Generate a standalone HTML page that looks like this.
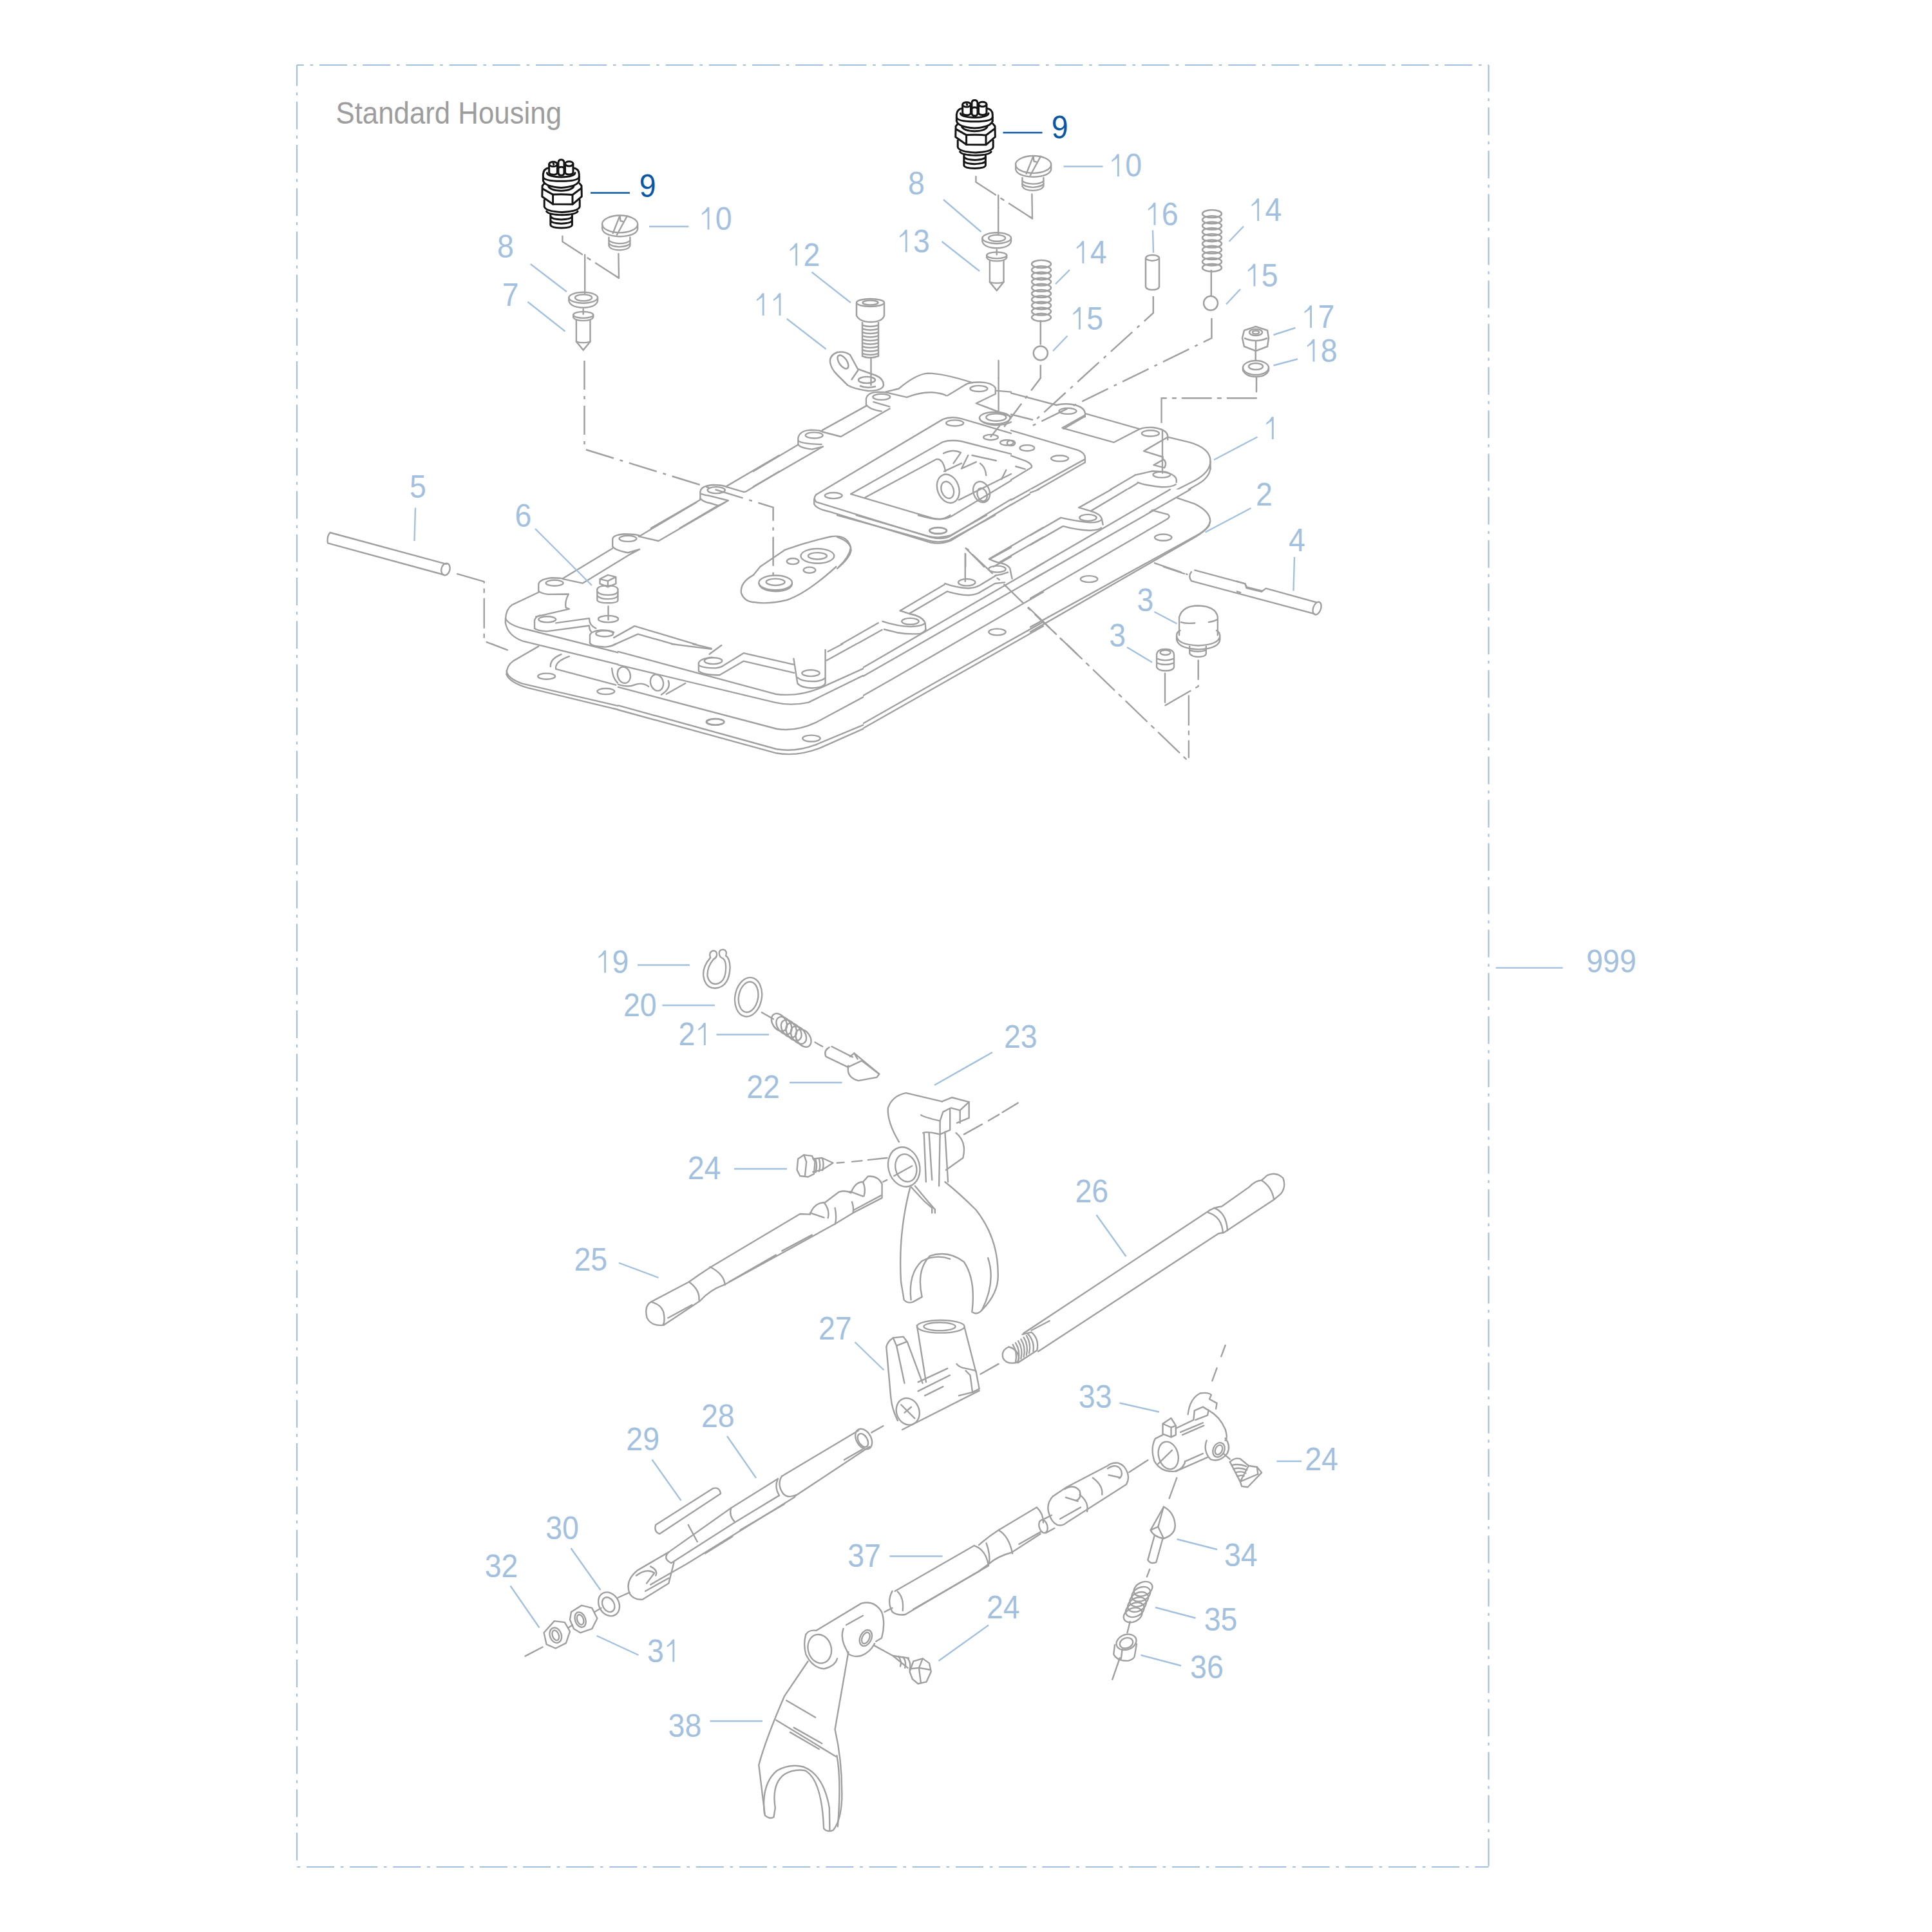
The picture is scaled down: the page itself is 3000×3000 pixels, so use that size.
<!DOCTYPE html>
<html><head><meta charset="utf-8"><style>
html,body{margin:0;padding:0;background:#fff;width:3000px;height:3000px;overflow:hidden}
svg{display:block}
text{font-family:"Liberation Sans",sans-serif}
</style></head><body>
<svg width="3000" height="3000" viewBox="0 0 3000 3000">
<rect width="3000" height="3000" fill="#fff"/>
<path d="M461 101 H2311.5" stroke="#a3c1de" stroke-width="2.2" fill="none" stroke-dasharray="43 9.8 4.6 9.8" stroke-dashoffset="32.2"/>
<path d="M2311.5 101 V2899" stroke="#a3c1de" stroke-width="2.2" fill="none" stroke-dasharray="43 9.8 4.6 9.8" stroke-dashoffset="1.4"/>
<path d="M461 2899 H2311.5" stroke="#a3c1de" stroke-width="2.2" fill="none" stroke-dasharray="43 9.8 4.6 9.8" stroke-dashoffset="52.2"/>
<path d="M461 101 V2899" stroke="#a3c1de" stroke-width="2.2" fill="none" stroke-dasharray="43 9.8 4.6 9.8" stroke-dashoffset="10.4"/>
<defs><clipPath id="cH4"><rect x="0" y="0" width="1300" height="1000"/><rect x="0" y="1200" width="1300" height="1800"/><rect x="0" y="1000" width="960" height="200"/></clipPath><clipPath id="cN8"><rect x="0" y="0" width="3000" height="1000"/><rect x="0" y="1200" width="3000" height="1800"/><rect x="0" y="1000" width="960" height="200"/><rect x="1340" y="1000" width="1660" height="200"/></clipPath><clipPath id="cH3"><rect x="1500" y="0" width="600" height="760"/><rect x="1500" y="760" width="100" height="40"/><rect x="1920" y="760" width="200" height="400"/></clipPath><clipPath id="cH5"><rect x="1620" y="0" width="1000" height="3000"/></clipPath></defs>
<g clip-path="url(#cN8)">
<g transform="translate(1300,800) scale(0.16563)" fill="none" stroke="#a0a0a0" stroke-width="14.49" stroke-linecap="round" stroke-linejoin="round" >
<path d="M0 0 L850 235 Q940 265 1050 235 L1480 0"/>
<path d="M180 0 L850 195 Q950 222 1060 190 L1400 0"/>
<path d="M760 0 Q900 40 960 38 Q1010 35 1060 0"/>
<ellipse cx="945" cy="145" rx="80" ry="30" transform="rotate(0 945 145)"/>
<path d="M0 205 Q130 250 130 330 Q120 400 0 500"/>
<path d="M1205 310 L1230 325"/>
<path d="M1200 360 V620"/>
<path d="M1270 370 L1455 545"/>
<path d="M1500 590 L1520 605"/>
<path d="M1565 650 L1745 825"/>
<path d="M1790 870 L1810 888"/>
<path d="M1855 930 L1932 1005"/>
<ellipse cx="1215" cy="630" rx="80" ry="32" transform="rotate(0 1215 630)"/>
<path d="M1010 640 Q1120 680 1230 685 Q1300 680 1340 655 L1490 565"/>
<path d="M1030 715 Q1150 750 1230 750 Q1310 745 1350 715 L1480 640 L1570 630"/>
<path d="M590 895 L1005 650"/>
<path d="M680 920 L1030 715"/>
<path d="M590 895 L680 925"/>
<ellipse cx="685" cy="995" rx="80" ry="30" transform="rotate(0 685 995)"/>
<path d="M425 995 Q560 1040 690 1045 Q800 1040 825 1010 L830 1070"/>
<path d="M440 1070 L560 1100 Q680 1120 780 1110 Q820 1095 830 1070"/>
<path d="M680 925 Q790 945 820 1000"/>
<path d="M385 1010 L0 1230"/>
<path d="M420 1075 L0 1310"/>
<ellipse cx="1500" cy="505" rx="80" ry="30" transform="rotate(0 1500 505)"/>
<path d="M1425 410 Q1480 440 1520 445 Q1600 460 1620 500 Q1625 530 1640 595"/>
<path d="M1480 565 Q1540 560 1600 535"/>
<path d="M1425 410 L1932 115"/>
<path d="M1525 440 L1932 205"/>
<path d="M40 1546 L1932 450"/>
<path d="M180 1546 L1932 545"/>
<path d="M500 1546 L1932 720"/>
<path d="M960 1546 L1932 1000"/>
<path d="M1040 1546 L1932 1040"/>
<ellipse cx="1500" cy="1095" rx="80" ry="30" transform="rotate(0 1500 1095)"/>
</g>
</g>
<path clip-path="url(#cN8)" d="M1306.6 1056 L1300 1059.7 M1329.8 1056 L1300 1072.9 M1382.8 1056 L1300 1103 M1459 1056 L1300 1146.2 M1472.3 1056 L1300 1153.7" fill="none" stroke="#a0a0a0" stroke-width="2.4"/>
<g transform="translate(1600,760) scale(0.16563)" fill="none" stroke="#a0a0a0" stroke-width="14.49" stroke-linecap="round" stroke-linejoin="round" >
<path d="M0 30 L80 0"/>
<path d="M455 170 L760 0"/>
<path d="M570 200 L905 0"/>
<path d="M455 170 L570 205"/>
<ellipse cx="540" cy="265" rx="80" ry="30" transform="rotate(0 540 265)"/>
<path d="M285 265 Q440 300 560 310 Q650 310 670 280 L680 330"/>
<path d="M310 345 Q430 380 560 385 Q640 380 665 360"/>
<path d="M570 205 Q660 230 670 280"/>
<path d="M285 265 L0 430"/>
<path d="M305 345 L0 520"/>
<path d="M0 760 L1310 0"/>
<path d="M0 855 L1500 0"/>
<path d="M1140 195 L1290 235 Q1320 260 1270 285 L0 1020"/>
<path d="M1120 212 L1160 190"/>
<path d="M1370 78 L1540 135 Q1690 210 1685 300 Q1670 370 1560 430 L0 1290"/>
<path d="M1685 300 L1675 340 Q1640 390 1540 450 L0 1335"/>
<ellipse cx="1245" cy="450" rx="80" ry="30" transform="rotate(0 1245 450)"/>
<ellipse cx="550" cy="840" rx="80" ry="30" transform="rotate(0 550 840)"/>
<path d="M1165 690 L1410 775"/>
<path d="M1462 793 L1470 797"/>
<path d="M45 1170 L230 1345"/>
<path d="M280 1395 L295 1410"/>
<path d="M340 1450 L440 1546"/>
</g>
<g transform="translate(960,1000) scale(0.19669)" fill="none" stroke="#a0a0a0" stroke-width="12.20" stroke-linecap="round" stroke-linejoin="round" >
<path d="M0 60 L1240 395 Q1420 420 1600 345 L1932 195"/>
<path d="M0 165 L1240 462 Q1360 490 1500 462 L1932 250"/>
<path d="M0 340 L1250 670 Q1400 695 1560 620 L1932 420"/>
<path d="M0 485 L1250 830 Q1400 855 1560 795 L1932 640"/>
<path d="M0 520 L1250 862 Q1420 890 1600 818 L1932 670"/>
<ellipse cx="750" cy="133" rx="70" ry="25" transform="rotate(0 750 133)"/>
<path d="M635 150 Q645 115 740 105"/>
<path d="M635 150 L635 215 Q680 248 800 245 L990 135 L1390 228"/>
<path d="M640 170 Q680 192 770 190 Q810 185 830 170 L990 72 L1385 162"/>
<path d="M720 80 L815 10"/>
<ellipse cx="1520" cy="230" rx="70" ry="25" transform="rotate(0 1520 230)"/>
<path d="M1385 115 L1415 310 Q1440 345 1530 348 Q1620 345 1635 310 L1635 45"/>
<path d="M1415 265 Q1450 295 1530 295 Q1610 295 1630 270"/>
<path d="M1655 60 L1770 0"/>
<path d="M1645 130 L1880 0"/>
<path d="M420 0 L735 40"/>
<path d="M590 0 L735 35"/>
<ellipse cx="45" cy="245" rx="50" ry="65" transform="rotate(-15 45 245)"/>
<ellipse cx="305" cy="305" rx="50" ry="65" transform="rotate(-15 305 305)"/>
<path d="M0 320 Q80 345 130 322 Q185 300 240 335"/>
<path d="M395 290 Q420 350 340 400"/>
<path d="M380 395 L530 310"/>
<ellipse cx="765" cy="615" rx="70" ry="25" transform="rotate(0 765 615)"/>
<ellipse cx="1525" cy="745" rx="70" ry="25" transform="rotate(0 1525 745)"/>
</g>
<g clip-path="url(#cN8)">
<g transform="translate(770,780) scale(0.20704)" fill="none" stroke="#a0a0a0" stroke-width="11.59" stroke-linecap="round" stroke-linejoin="round" >
<ellipse cx="990" cy="272" rx="65" ry="22" transform="rotate(0 990 272)"/>
<path d="M875 330 L875 275 Q880 245 960 238 Q1055 238 1080 252 L1505 0"/>
<path d="M1070 255 L1220 290 L1720 0"/>
<path d="M875 345 L500 572"/>
<path d="M875 330 Q890 358 990 378 L1078 352 L1010 388 L650 607 L505 575"/>
<ellipse cx="440" cy="605" rx="65" ry="22" transform="rotate(0 440 605)"/>
<path d="M320 665 L320 612 Q330 575 420 566 Q495 566 505 575"/>
<path d="M320 665 Q335 682 390 690 L545 688 Q515 745 525 790 L550 800 L300 858"/>
<path d="M320 675 L120 770 Q75 800 72 880 L72 905"/>
<ellipse cx="385" cy="878" rx="65" ry="22" transform="rotate(0 385 878)"/>
<path d="M290 945 L290 885 Q300 855 330 848"/>
<path d="M450 905 L700 870 Q700 925 750 945"/>
<path d="M290 945 Q305 962 380 968 L700 925 Q700 955 715 970"/>
<ellipse cx="815" cy="985" rx="65" ry="22" transform="rotate(0 815 985)"/>
<path d="M705 1055 L705 995 Q715 965 790 958 Q865 958 885 975"/>
<path d="M705 1055 Q720 1082 820 1085 Q870 1080 900 1062"/>
<path d="M885 1015 L1040 928 L1615 1100"/>
<path d="M870 1075 L1065 988 L1580 1135"/>
<path d="M1605 1140 L1690 1072"/>
<ellipse cx="1630" cy="1190" rx="65" ry="22" transform="rotate(0 1630 1190)"/>
<path d="M1520 1260 L1520 1222 Q1530 1185 1610 1170"/>
<path d="M1520 1260 Q1540 1292 1640 1295 Q1690 1290 1720 1270"/>
<path d="M1700 1180 L1860 1130 L1932 1150"/>
<path d="M1700 1270 L1845 1195 L1932 1215"/>
<path d="M72 870 Q95 925 240 955 L1932 1385"/>
<path d="M72 905 Q90 1000 200 1040 L1932 1465"/>
<path d="M320 1080 L130 1190 Q80 1225 80 1290"/>
<path d="M80 1262 Q85 1320 200 1360 L1000 1546"/>
<path d="M80 1290 Q100 1350 240 1392 L880 1546"/>
<ellipse cx="380" cy="1305" rx="65" ry="22" transform="rotate(0 380 1305)"/>
<ellipse cx="825" cy="1418" rx="65" ry="22" transform="rotate(0 825 1418)"/>
<path d="M490 1140 Q405 1175 410 1232"/>
<path d="M550 1155 Q440 1195 450 1250 L900 1370"/>
<path d="M1932 545 Q1830 600 1840 680 Q1860 740 1932 750"/>
<ellipse cx="960" cy="1295" rx="45" ry="65" transform="rotate(-15 960 1295)"/>
<ellipse cx="1205" cy="1350" rx="45" ry="65" transform="rotate(-15 1205 1350)"/>
<path d="M870 1245 Q880 1380 1000 1390 Q1060 1350 1110 1370"/>
<path d="M1290 1340 Q1310 1420 1240 1440"/>
<path d="M1280 1440 L1420 1360"/>
<path d="M760 650 L760 735 Q770 755 840 755 Q910 755 915 735 L915 650"/>
<path d="M760 670 Q780 695 840 695 Q905 695 915 670"/>
<path d="M760 700 Q780 725 840 725 Q905 725 915 700"/>
<path d="M760 650 Q770 625 840 625 Q905 625 915 650"/>
<path d="M780 575 L780 610 L840 635 L900 610 L900 560 L840 545 L780 575 L840 590 L900 560 M840 590 L840 635"/>
<path d="M843 780 L843 880"/>
<ellipse cx="843" cy="875" rx="75" ry="25" transform="rotate(0 843 875)"/>
</g>
</g>
<g transform="translate(1170,560) scale(0.20704)" fill="none" stroke="#a0a0a0" stroke-width="11.59" stroke-linecap="round" stroke-linejoin="round" >
<path d="M0 830 L335 630"/>
<path d="M0 945 L520 645"/>
<ellipse cx="455" cy="560" rx="65" ry="22" transform="rotate(0 455 560)"/>
<path d="M335 630 L335 580 Q345 525 430 520 Q500 520 520 535"/>
<path d="M335 630 Q350 655 440 665 L520 645"/>
<path d="M340 605 Q380 625 510 628"/>
<path d="M515 522 L845 340"/>
<path d="M520 535 L655 570 L1022 360"/>
<ellipse cx="960" cy="272" rx="65" ry="22" transform="rotate(0 960 272)"/>
<path d="M845 340 L845 285 Q855 240 930 235 Q985 235 1000 240"/>
<path d="M850 335 Q870 365 960 380"/>
<path d="M900 310 L1020 345"/>
<path d="M990 235 L1090 210 Q1220 100 1310 95 Q1420 95 1640 165"/>
<path d="M1000 240 L1150 275 Q1250 235 1340 238 Q1420 245 1445 262"/>
<path d="M1455 262 L1590 180"/>
<ellipse cx="1690" cy="210" rx="65" ry="22" transform="rotate(0 1690 210)"/>
<path d="M1590 180 Q1620 160 1700 162 Q1790 165 1815 205 L1815 250 L1670 320 L1932 420"/>
<path d="M1820 225 L1932 235"/>
<path d="M1838 130 V390"/>
<path d=" M1838 0 V130" stroke-dasharray="217.3 48.3 24.1 48.3"/>
<ellipse cx="1810" cy="430" rx="115" ry="45" transform="rotate(0 1810 430)"/>
<ellipse cx="1820" cy="425" rx="75" ry="28" transform="rotate(0 1820 425)"/>
<path d="M1695 430 Q1700 470 1810 485 Q1900 480 1932 460"/>
<ellipse cx="1780" cy="575" rx="55" ry="20" transform="rotate(0 1780 575)"/>
<ellipse cx="1900" cy="615" rx="50" ry="20" transform="rotate(0 1900 615)"/>
<path d="M1845 490 L1780 570"/>
<path d="M470 1005 L1420 440 Q1480 415 1560 435 L1932 545"/>
<path d="M470 1005 Q445 1030 470 1060 L1330 1325 Q1420 1345 1470 1320 L1932 1040"/>
<path d="M455 1040 L455 1075 Q470 1110 560 1130 L1330 1365 Q1410 1380 1480 1350 L1932 1080"/>
<ellipse cx="600" cy="1012" rx="65" ry="22" transform="rotate(0 600 1012)"/>
<ellipse cx="1510" cy="468" rx="65" ry="22" transform="rotate(0 1510 468)"/>
<ellipse cx="1385" cy="1275" rx="65" ry="22" transform="rotate(0 1385 1275)"/>
<path d="M730 1000 L1420 610 Q1480 590 1560 605 L1932 700"/>
<path d="M730 1000 L1340 1180 Q1420 1200 1480 1170 L1932 900"/>
<path d="M830 1030 L1370 740 Q1420 730 1440 830"/>
<ellipse cx="1460" cy="960" rx="80" ry="110" transform="rotate(-20 1460 960)"/>
<ellipse cx="1455" cy="970" rx="45" ry="65" transform="rotate(-20 1455 970)"/>
<path d="M1430 830 L1560 770"/>
<path d="M1540 1045 L1932 850"/>
<ellipse cx="1710" cy="985" rx="60" ry="80" transform="rotate(-20 1710 985)"/>
<ellipse cx="1715" cy="1005" rx="35" ry="50" transform="rotate(-20 1715 1005)"/>
<path d="M1425 695 Q1500 660 1555 690 L1500 770"/>
<path d="M1610 710 L1560 810 L1670 760"/>
<path d="M1640 710 L1820 750"/>
<path d="M1700 770 Q1740 800 1745 860"/>
<path d="M1895 820 L1860 890"/>
<path d="M50 1546 L235 1420 Q400 1360 580 1320 Q700 1300 730 1400 Q720 1470 640 1546"/>
<ellipse cx="480" cy="1465" rx="125" ry="55" transform="rotate(0 480 1465)"/>
<ellipse cx="480" cy="1465" rx="70" ry="25" transform="rotate(0 480 1465)"/>
<ellipse cx="295" cy="1505" rx="45" ry="22" transform="rotate(0 295 1505)"/>
<path d=" M1595 1410 L1730 1546" stroke-dasharray="217.3 48.3 24.1 48.3"/>
<path d="M1590 1450 V1546"/>
<path d="M1770 1490 L1932 1400"/>
<path d="M1800 1546 L1932 1470"/>
</g>
<g clip-path="url(#cH3)">
<g transform="translate(1570,600) scale(0.20704)" fill="none" stroke="#a0a0a0" stroke-width="11.59" stroke-linecap="round" stroke-linejoin="round" >
<path d="M0 50 L340 140"/>
<ellipse cx="425" cy="185" rx="65" ry="22" transform="rotate(0 425 185)"/>
<path d="M340 140 Q380 128 440 133 Q545 145 555 200 L555 228"/>
<path d="M555 215 L385 310"/>
<path d="M548 228 L395 318"/>
<path d="M385 312 L770 420 L960 322"/>
<path d="M560 205 L960 318"/>
<path d="M0 210 L160 250"/>
<path d="M0 330 L500 478 Q560 500 555 545 L0 852"/>
<path d="M555 545 L555 570 L0 888"/>
<path d="M0 520 L110 560 Q170 590 150 610 L0 700"/>
<path d="M35 600 L105 620"/>
<ellipse cx="365" cy="540" rx="65" ry="22" transform="rotate(0 365 540)"/>
<ellipse cx="120" cy="462" rx="55" ry="22" transform="rotate(0 120 462)"/>
<ellipse cx="0" cy="425" rx="30" ry="20" transform="rotate(0 0 425)"/>
<ellipse cx="1045" cy="352" rx="65" ry="22" transform="rotate(0 1045 352)"/>
<path d="M960 322 Q995 305 1060 308 Q1170 320 1175 375 L1175 400"/>
<path d="M1175 380 L995 485 L1140 530"/>
<path d="M1135 540 Q1175 570 1150 610 L1070 590 L1140 550"/>
<path d="M1135 330 V650"/>
<path d=" M1128 270 V88 H1840 V35" stroke-dasharray="217.3 48.3 24.1 48.3"/>
<path d="M1175 380 L1340 420 Q1495 465 1495 560 L1495 620"/>
<path d="M1495 560 Q1495 640 1380 705"/>
<path d="M1495 610 Q1490 690 1380 745 L0 1544"/>
<ellipse cx="1130" cy="662" rx="65" ry="22" transform="rotate(0 1130 662)"/>
<path d="M930 665 L1060 635 Q1230 640 1240 700 L1240 720"/>
<path d="M950 720 Q1000 742 1130 755 Q1210 755 1235 735"/>
<path d="M930 665 L515 910 L600 938 L945 728"/>
<ellipse cx="575" cy="985" rx="65" ry="22" transform="rotate(0 575 985)"/>
<path d="M375 985 L500 955 Q680 965 690 1010 L690 1040"/>
<path d="M395 1045 Q450 1062 580 1080 Q650 1080 680 1060"/>
<path d="M375 985 L0 1195"/>
<path d="M395 1045 L0 1262"/>
<path d="M1380 705 L680 1062"/>
<path d="M680 1062 L0 1440"/>
<path d="M1245 830 L1330 860 Q1490 920 1485 1010 Q1470 1070 1380 1120 L600 1546"/>
<path d="M1488 1000 L1488 1040 Q1470 1090 1370 1150 L650 1546"/>
<path d="M1050 935 L1180 972 Q1190 995 1160 1005 L330 1546"/>
<path d="M0 1360 L10 1440"/>
<ellipse cx="1140" cy="1135" rx="65" ry="22" transform="rotate(0 1140 1135)"/>
<ellipse cx="585" cy="1445" rx="65" ry="22" transform="rotate(0 585 1445)"/>
<path d="M1370 1370 L1755 1480 L1765 1512 L1880 1540"/>
<path d="M1370 1370 Q1335 1410 1355 1440 L1720 1546"/>
<path d=" M1080 1330 L1330 1412" stroke-dasharray="217.3 48.3 24.1 48.3"/>
</g>
</g>
<g clip-path="url(#cH4)">
<g transform="translate(1170,880) scale(0.20704)" fill="none" stroke="#a0a0a0" stroke-width="11.59" stroke-linecap="round" stroke-linejoin="round" >
<path d="M0 910 Q100 935 170 957 Q340 990 590 870 L1880 120"/>
<path d="M0 985 Q200 1040 330 1040 Q480 1030 640 940 L1932 200"/>
<path d="M0 1165 Q180 1225 300 1228 Q450 1220 600 1130 L1932 345"/>
<path d="M0 1315 Q200 1380 330 1390 Q480 1385 600 1310 L1932 550"/>
<path d="M180 1370 Q250 1415 340 1415 Q500 1410 640 1320 L1932 575"/>
<path d="M0 670 L300 735"/>
<path d="M0 735 L310 795"/>
<ellipse cx="430" cy="798" rx="65" ry="22" transform="rotate(0 430 798)"/>
<path d="M300 690 L335 880 Q350 905 430 912 Q520 910 540 885 L540 625"/>
<path d="M320 820 Q340 855 430 858 Q510 858 540 830"/>
<path d="M560 635 L935 425"/>
<path d="M550 705 L960 475"/>
<ellipse cx="1175" cy="408" rx="65" ry="22" transform="rotate(0 1175 408)"/>
<path d="M1095 330 L1240 375 Q1285 400 1290 430 L1290 475"/>
<path d="M980 468 L1200 510 Q1260 510 1290 475"/>
<path d="M975 410 L1110 440 Q1160 452 1250 450 Q1280 440 1285 430"/>
<path d="M1095 330 L1435 130 L1560 150 Q1620 160 1680 140 L1800 70"/>
<path d="M1175 345 L1455 185 L1600 212 Q1650 215 1700 190 L1820 120"/>
<ellipse cx="1600" cy="120" rx="65" ry="22" transform="rotate(0 1600 120)"/>
<path d="M1590 0 V120"/>
<ellipse cx="1830" cy="20" rx="65" ry="22" transform="rotate(0 1830 20)"/>
<ellipse cx="1830" cy="490" rx="65" ry="22" transform="rotate(0 1830 490)"/>
<ellipse cx="1155" cy="870" rx="65" ry="22" transform="rotate(0 1155 870)"/>
<ellipse cx="435" cy="1285" rx="65" ry="22" transform="rotate(0 435 1285)"/>
<path d="M0 265 Q100 285 250 250 Q400 200 620 0"/>
<ellipse cx="165" cy="120" rx="125" ry="55" transform="rotate(0 165 120)"/>
<ellipse cx="165" cy="115" rx="70" ry="25" transform="rotate(0 165 115)"/>
<path d="M40 125 Q50 180 165 185 Q280 180 290 130"/>
<ellipse cx="420" cy="25" rx="45" ry="22" transform="rotate(0 420 25)"/>
</g>
</g>
<g transform="translate(970,640) scale(0.12422)" fill="none" stroke="#a0a0a0" stroke-width="19.32" stroke-linecap="round" stroke-linejoin="round" >
<ellipse cx="1145" cy="975" rx="110" ry="40" transform="rotate(0 1145 975)"/>
<path d="M945 1090 L945 990 Q960 920 1100 910 Q1230 910 1275 935"/>
<path d="M1275 925 L1932 540"/>
<path d="M1275 935 L1480 995 Q1500 1000 1520 990 L1932 740"/>
<path d="M950 1020 Q1000 1040 1060 1045 L1295 1105 L1170 1170"/>
<path d="M945 1080 Q990 1125 1060 1135 L1170 1168"/>
<path d="M945 1095 L330 1449"/>
<path d="M1170 1165 L690 1449"/>
</g>
<path d="M907.5 560 V697.5 L1200.6 787.9 V901" fill="none" stroke="#a0a0a0" stroke-width="2.5" stroke-dasharray="45 10 5 10"/>
<g transform="translate(1570,880) scale(0.26915)" fill="none" stroke="#a0a0a0" stroke-width="8.92" stroke-linecap="round" stroke-linejoin="round" >
<path d=" M100 235 L1010 1110" stroke-dasharray="167.2 37.2 18.6 37.2"/>
<path d=" M1025 745 V1100" stroke-dasharray="167.2 37.2 18.6 37.2"/>
<path d=" M890 800 L1080 690 V540" stroke-dasharray="167.2 37.2 18.6 37.2"/>
<path d=" M888 615 V800" stroke-dasharray="167.2 37.2 18.6 37.2"/>
<path d="M970 395 L970 290 Q990 225 1080 225 Q1180 228 1192 290 L1192 395"/>
<path d="M980 320 Q1010 330 1060 325"/>
<path d="M1140 320 Q1170 315 1190 305"/>
<path d="M955 400 Q955 375 975 368"/>
<path d="M1185 368 Q1205 378 1205 400 Q1200 450 1080 455 Q960 450 955 400 L955 420 Q965 472 1080 477 Q1200 472 1205 420 L1205 400"/>
<path d="M1030 460 L1030 500 Q1040 520 1080 520 Q1125 520 1125 500 L1125 460"/>
<path d="M1030 482 Q1080 497 1125 482"/>
<path d="M840 505 L840 580 Q850 600 890 600 Q935 600 940 580 L940 505 Q935 475 890 475 Q845 475 840 505"/>
<path d="M840 530 Q890 550 940 530"/>
<path d="M840 555 Q890 575 940 555"/>
<ellipse cx="890" cy="495" rx="30" ry="14" transform="rotate(0 890 495)"/>
<path d="M1040 30 Q1020 55 1040 82 L1750 272"/>
<path d="M1060 20 L1350 98 L1360 118 L1450 140 L1470 125 L1760 205"/>
<ellipse cx="1765" cy="240" rx="22" ry="38" transform="rotate(20 1765 240)"/>
<path d=" M880 0 L1000 40" stroke-dasharray="167.2 37.2 18.6 37.2"/>
</g>
<g transform="translate(480,760) scale(0.36232)" fill="none" stroke="#a0a0a0" stroke-width="6.62" stroke-linecap="round" stroke-linejoin="round" >
<path d="M90 185 Q75 200 80 230 L575 365"/>
<path d="M90 185 L588 320"/>
<ellipse cx="585" cy="342" rx="18" ry="26" transform="rotate(15 585 342)"/>
<path d=" M635 362 L750 395 V650 L850 688" stroke-dasharray="124.2 27.6 13.8 27.6"/>
</g>
<ellipse cx="1111" cy="1121" rx="13.5" ry="4.6" fill="none" stroke="#a0a0a0" stroke-width="2.4"/>
<path clip-path="url(#cN8)" d="M977 1100 L1170 1152.3" fill="none" stroke="#a0a0a0" stroke-width="2.4"/>
<path clip-path="url(#cN8)" d="M952 1100 L1207 1163.6" fill="none" stroke="#a0a0a0" stroke-width="2.4"/>
<path clip-path="url(#cN8)" d="M1170 892.8 L1180.4 880" fill="none" stroke="#a0a0a0" stroke-width="2.4"/>
<g transform="translate(1480,230) scale(0.12422)" fill="none" stroke="#a0a0a0" stroke-width="19.32" stroke-linecap="round" stroke-linejoin="round" >
<ellipse cx="1003" cy="205" rx="222" ry="108" transform="rotate(0 1003 205)"/>
<path d="M915 320 L1003 98 L1010 165 L1040 172"/>
<path d="M965 340 L1095 102"/>
<path d="M782 210 V265 Q800 350 1003 360 Q1210 350 1225 265 V210"/>
<path d="M865 370 V475 Q880 525 995 530 Q1115 525 1130 475 V370"/>
<path d="M865 410 Q900 445 995 448 Q1100 445 1130 410"/>
<path d="M865 450 Q900 485 995 490 Q1100 485 1130 450"/>
<path d=" M285 355 V425 L990 880" stroke-dasharray="362.3 80.5 40.3 80.5"/>
<path d="M985 575 L990 880 L955 858"/>
<path d="M565 740 V1070"/>
<path d=" M565 590 V740" stroke-dasharray="362.3 80.5 40.3 80.5"/>
<path d="M545 1270 V1330"/>
<ellipse cx="545" cy="1125" rx="180" ry="68" transform="rotate(0 545 1125)"/>
<ellipse cx="548" cy="1125" rx="105" ry="40" transform="rotate(0 548 1125)"/>
<path d="M365 1125 V1165 Q385 1245 545 1250 Q705 1245 725 1165 V1125"/>
<ellipse cx="545" cy="1340" rx="125" ry="40" transform="rotate(0 545 1340)"/>
<path d="M420 1340 V1370 Q440 1410 545 1412 Q650 1410 670 1370 V1340"/>
<path d="M458 1405 V1675 L545 1780 L632 1675 V1405"/>
<path d="M458 1675 Q545 1700 632 1675"/>
</g>
<g transform="translate(1472,147.5) scale(0.06211)" fill="none" stroke="#141414" stroke-width="48.30" stroke-linecap="round" stroke-linejoin="round" >
<path d="M365 245 L365 450 Q380 500 470 505 Q560 500 570 450 L570 245"/>
<ellipse cx="467" cy="240" rx="103" ry="58" transform="rotate(0 467 240)"/>
<path d="M470 225 L480 245"/>
<path d="M765 235 L765 450 Q780 495 865 500 Q950 495 965 450 L965 235"/>
<ellipse cx="865" cy="230" rx="100" ry="58" transform="rotate(0 865 230)"/>
<path d="M595 200 Q600 130 665 130 Q735 130 740 200 L740 460 Q735 520 665 520 Q600 520 595 460 Z"/>
<path d="M600 330 Q665 290 735 330"/>
<path d="M215 650 L215 490 Q230 350 360 335"/>
<path d="M970 335 Q1110 355 1115 490 L1115 650"/>
<path d="M312 460 Q330 555 665 565 Q1000 555 1015 460"/>
<path d="M215 560 Q240 660 665 665 Q1090 660 1115 560"/>
<path d="M215 650 Q250 800 665 830 Q1080 800 1115 650"/>
<path d="M350 800 Q400 900 665 905 Q930 900 980 800"/>
<path d="M240 730 L195 780 L190 1050 L460 1240 L950 1245 L1180 1050 L1175 780 L1125 720"/>
<path d="M210 860 L460 1000 Q700 985 950 1005 L1160 850"/>
<path d="M460 1000 V1240"/>
<path d="M950 1005 V1240"/>
<path d="M245 1135 L245 1300 Q270 1420 690 1440 Q1110 1420 1130 1300 L1130 1135"/>
<path d="M300 1420 Q350 1500 690 1510 Q1030 1500 1080 1420"/>
<path d="M400 1500 L400 1760 Q420 1830 670 1835 Q920 1830 940 1760 L940 1500"/>
<path d="M410 1560 Q450 1620 670 1625 Q890 1620 935 1560"/>
<path d="M405 1660 Q450 1720 670 1725 Q890 1720 935 1660"/>
</g>
<g transform="translate(838,322.5) scale(0.12422)" fill="none" stroke="#a0a0a0" stroke-width="19.32" stroke-linecap="round" stroke-linejoin="round" >
<ellipse cx="1003" cy="205" rx="222" ry="108" transform="rotate(0 1003 205)"/>
<path d="M915 320 L1003 98 L1010 165 L1040 172"/>
<path d="M965 340 L1095 102"/>
<path d="M782 210 V265 Q800 350 1003 360 Q1210 350 1225 265 V210"/>
<path d="M865 370 V475 Q880 525 995 530 Q1115 525 1130 475 V370"/>
<path d="M865 410 Q900 445 995 448 Q1100 445 1130 410"/>
<path d="M865 450 Q900 485 995 490 Q1100 485 1130 450"/>
<path d=" M285 355 V425 L990 880" stroke-dasharray="362.3 80.5 40.3 80.5"/>
<path d="M985 575 L990 880 L955 858"/>
<path d="M565 740 V1070"/>
<path d=" M565 590 V740" stroke-dasharray="362.3 80.5 40.3 80.5"/>
<path d="M545 1270 V1330"/>
<ellipse cx="545" cy="1125" rx="180" ry="68" transform="rotate(0 545 1125)"/>
<ellipse cx="548" cy="1125" rx="105" ry="40" transform="rotate(0 548 1125)"/>
<path d="M365 1125 V1165 Q385 1245 545 1250 Q705 1245 725 1165 V1125"/>
<ellipse cx="545" cy="1340" rx="125" ry="40" transform="rotate(0 545 1340)"/>
<path d="M420 1340 V1370 Q440 1410 545 1412 Q650 1410 670 1370 V1340"/>
<path d="M458 1405 V1675 L545 1780 L632 1675 V1405"/>
<path d="M458 1675 Q545 1700 632 1675"/>
</g>
<g transform="translate(830,240.0) scale(0.06211)" fill="none" stroke="#141414" stroke-width="48.30" stroke-linecap="round" stroke-linejoin="round" >
<path d="M365 245 L365 450 Q380 500 470 505 Q560 500 570 450 L570 245"/>
<ellipse cx="467" cy="240" rx="103" ry="58" transform="rotate(0 467 240)"/>
<path d="M470 225 L480 245"/>
<path d="M765 235 L765 450 Q780 495 865 500 Q950 495 965 450 L965 235"/>
<ellipse cx="865" cy="230" rx="100" ry="58" transform="rotate(0 865 230)"/>
<path d="M595 200 Q600 130 665 130 Q735 130 740 200 L740 460 Q735 520 665 520 Q600 520 595 460 Z"/>
<path d="M600 330 Q665 290 735 330"/>
<path d="M215 650 L215 490 Q230 350 360 335"/>
<path d="M970 335 Q1110 355 1115 490 L1115 650"/>
<path d="M312 460 Q330 555 665 565 Q1000 555 1015 460"/>
<path d="M215 560 Q240 660 665 665 Q1090 660 1115 560"/>
<path d="M215 650 Q250 800 665 830 Q1080 800 1115 650"/>
<path d="M350 800 Q400 900 665 905 Q930 900 980 800"/>
<path d="M240 730 L195 780 L190 1050 L460 1240 L950 1245 L1180 1050 L1175 780 L1125 720"/>
<path d="M210 860 L460 1000 Q700 985 950 1005 L1160 850"/>
<path d="M460 1000 V1240"/>
<path d="M950 1005 V1240"/>
<path d="M245 1135 L245 1300 Q270 1420 690 1440 Q1110 1420 1130 1300 L1130 1135"/>
<path d="M300 1420 Q350 1500 690 1510 Q1030 1500 1080 1420"/>
<path d="M400 1500 L400 1760 Q420 1830 670 1835 Q920 1830 940 1760 L940 1500"/>
<path d="M410 1560 Q450 1620 670 1625 Q890 1620 935 1560"/>
<path d="M405 1660 Q450 1720 670 1725 Q890 1720 935 1660"/>
</g>
<g fill="none" stroke="#a0a0a0" stroke-width="2.5"><ellipse cx="1617" cy="410.0" rx="15" ry="6.0"/><ellipse cx="1617" cy="419.2" rx="15" ry="6.0"/><ellipse cx="1617" cy="428.4" rx="15" ry="6.0"/><ellipse cx="1617" cy="437.6" rx="15" ry="6.0"/><ellipse cx="1617" cy="446.8" rx="15" ry="6.0"/><ellipse cx="1617" cy="456.0" rx="15" ry="6.0"/><ellipse cx="1617" cy="465.2" rx="15" ry="6.0"/><ellipse cx="1617" cy="474.4" rx="15" ry="6.0"/><ellipse cx="1617" cy="483.6" rx="15" ry="6.0"/><ellipse cx="1617" cy="492.8" rx="15" ry="6.0"/><ellipse cx="1882" cy="332.0" rx="15" ry="6.0"/><ellipse cx="1882" cy="341.3" rx="15" ry="6.0"/><ellipse cx="1882" cy="350.6" rx="15" ry="6.0"/><ellipse cx="1882" cy="359.9" rx="15" ry="6.0"/><ellipse cx="1882" cy="369.2" rx="15" ry="6.0"/><ellipse cx="1882" cy="378.5" rx="15" ry="6.0"/><ellipse cx="1882" cy="387.8" rx="15" ry="6.0"/><ellipse cx="1882" cy="397.1" rx="15" ry="6.0"/><ellipse cx="1882" cy="406.4" rx="15" ry="6.0"/><ellipse cx="1882" cy="415.7" rx="15" ry="6.0"/><circle cx="1615.8" cy="548.4" r="11"/><circle cx="1880" cy="470.8" r="11"/><path d="M1615.8 497 V535.5 M1880.8 419 V460"/><rect x="1779" y="396" width="21" height="54" rx="10" ry="5"/><path d="M1779 402 Q1789 408 1800 402"/><path d="M1929 525 L1932 513 L1950 507 L1968 513 L1970 525 L1968 538 L1950 545 L1932 538 Z M1932 525 Q1950 533 1968 525 M1950 530 V545"/><ellipse cx="1950" cy="516" rx="10" ry="5"/><ellipse cx="1950" cy="516" rx="5" ry="2.5"/><path d="M1949.7 545 V559"/><ellipse cx="1950" cy="571" rx="20" ry="11"/><ellipse cx="1950" cy="569" rx="11" ry="5"/><path d="M1930 571 V575 Q1935 585 1950 585 Q1966 585 1970 575 V571"/><path d="M1330 470 V490 Q1335 500 1352 500 Q1370 500 1373 490 V470"/><ellipse cx="1351.5" cy="470" rx="21.5" ry="6"/><ellipse cx="1351.5" cy="470" rx="12" ry="3.5"/><path d="M1339 500 V553 Q1350 558 1364 553 V500"/><path d="M1339 505.0 Q1351 509.0 1364 505.0"/><path d="M1339 510.5 Q1351 514.5 1364 510.5"/><path d="M1339 516.0 Q1351 520.0 1364 516.0"/><path d="M1339 521.5 Q1351 525.5 1364 521.5"/><path d="M1339 527.0 Q1351 531.0 1364 527.0"/><path d="M1339 532.5 Q1351 536.5 1364 532.5"/><path d="M1339 538.0 Q1351 542.0 1364 538.0"/><path d="M1339 543.5 Q1351 547.5 1364 543.5"/><path d="M1339 549.0 Q1351 553.0 1364 549.0"/><path d="M1352.5 554 V599"/><path d="M1300 547 Q1288 552 1289 562 Q1290 572 1300 582 L1316 598 Q1326 604 1348 607 Q1370 607 1372 598 Q1372 588 1360 583 L1332 573 L1320 551 Q1312 545 1300 547 Z"/><ellipse cx="1309" cy="562" rx="6" ry="12" transform="rotate(-35 1309 562)"/><ellipse cx="1346" cy="590" rx="13" ry="5"/><path d="M1322 590 L1333 574 M1335 599 Q1346 604 1360 600"/></g>
<path d="M1790.8 460 V486 L1605.5 654.5 M1615.8 566.5 V587 L1553.7 670 M1881.4 494 V525 L1595 665 M1951 585 V607" fill="none" stroke="#a0a0a0" stroke-width="2.5" stroke-dasharray="45 10 5 10"/>
<g transform="translate(880,1440) scale(0.2588)" fill="none" stroke="#a0a0a0" stroke-width="9.27" stroke-linecap="round" stroke-linejoin="round" >
<path d="M862 182 Q815 235 820 290 Q830 365 890 365 Q975 360 980 240 Q978 185 955 170"/>
<path d="M880 192 Q840 240 845 295 Q858 340 892 340 Q955 335 955 240 Q955 200 938 187"/>
<path d="M862 182 Q850 150 878 140 Q905 140 900 170 Q895 185 882 190"/>
<path d="M955 170 Q965 140 940 133 Q912 133 915 160 Q918 180 936 186"/>
<ellipse cx="1090" cy="418" rx="80" ry="118" transform="rotate(10 1090 418)"/>
<ellipse cx="1090" cy="418" rx="58" ry="92" transform="rotate(10 1090 418)"/>
<path d="M1170 510 L1240 550"/>
<path d="M1490 690 L1535 715"/>
<path d="M1575 720 Q1540 740 1555 775 L1690 840"/>
<path d="M1590 715 L1715 778"/>
<path d="M1690 830 Q1675 900 1750 920 L1860 900 L1875 880 L1725 755 L1700 775"/>
<path d="M1695 835 L1770 800 L1875 880"/>
<path d="M1725 755 L1745 790"/>
<ellipse cx="1275" cy="570" rx="40" ry="58" transform="rotate(-35 1275 570)"/>
<ellipse cx="1304" cy="589" rx="40" ry="58" transform="rotate(-35 1304 589)"/>
<ellipse cx="1333" cy="608" rx="40" ry="58" transform="rotate(-35 1333 608)"/>
<ellipse cx="1362" cy="627" rx="40" ry="58" transform="rotate(-35 1362 627)"/>
<ellipse cx="1391" cy="646" rx="40" ry="58" transform="rotate(-35 1391 646)"/>
<ellipse cx="1420" cy="665" rx="40" ry="58" transform="rotate(-35 1420 665)"/>
</g>
<g transform="translate(1000,1680) scale(0.31056)" fill="none" stroke="#a0a0a0" stroke-width="7.73" stroke-linecap="round" stroke-linejoin="round" >
<path d="M35 1100 L225 1000 Q280 960 335 925 L780 660 L830 662"/>
<path d="M830 662 Q850 605 900 603 Q930 640 920 680"/>
<path d="M830 655 L900 678"/>
<path d="M905 603 L975 550 Q1010 540 1035 555 Q1055 500 1095 500 Q1110 535 1100 570"/>
<path d="M1030 548 L1095 572"/>
<path d="M1095 500 L1120 472 Q1170 468 1190 510 L1190 580 L1045 655 L955 710 L400 1015 Q330 1040 280 1095 L100 1215"/>
<path d="M100 1215 Q40 1225 15 1180 Q0 1120 35 1100"/>
<path d="M35 1100 Q95 1115 100 1165 Q105 1200 95 1215"/>
<path d="M225 1000 Q280 1040 275 1090"/>
<path d="M330 925 Q400 960 405 1015"/>
<path d="M955 630 Q965 680 955 712"/>
<path d="M1040 600 Q1050 630 1045 655"/>
<path d="M425 1000 L660 865"/>
<path d="M690 845 L840 765"/>
<path d="M120 1180 L240 1115"/>
<path d="M1050 640 L1185 568"/>
<path d="M1195 500 L1215 490"/>
<path d="M770 385 L800 365 L840 370 L855 400 L850 460 L820 475 L780 470 L765 440 Z"/>
<path d="M800 365 L812 400 L805 470"/>
<path d="M845 385 L890 380 L945 405 L890 440 L845 450"/>
<path d="M858 388 Q868 420 858 452"/>
<path d="M875 384 Q885 418 875 447"/>
<path d="M892 382 Q902 415 892 442"/>
<path d="M965 405 L1000 402"/>
<path d="M1040 399 L1090 394"/>
<path d="M1120 390 L1215 380"/>
<ellipse cx="1300" cy="425" rx="78" ry="100" transform="rotate(-15 1300 425)"/>
<ellipse cx="1310" cy="430" rx="52" ry="70" transform="rotate(-15 1310 430)"/>
<path d="M1250 470 L1340 420"/>
<path d="M1275 300 Q1215 200 1220 130 Q1240 70 1310 55 L1490 98"/>
<path d="M1490 98 L1540 78 L1625 100 L1625 180 L1565 205"/>
<path d="M1535 130 L1580 142 L1625 100"/>
<path d="M1580 142 V205"/>
<path d="M1495 150 L1530 132 V240 L1480 262 V195 L1495 150"/>
<path d="M1385 165 Q1395 175 1480 195"/>
<path d="M1395 255 Q1410 245 1480 262"/>
<path d="M1400 260 L1410 500"/>
<path d="M1425 255 L1440 490"/>
<path d="M1480 262 L1475 520"/>
<path d="M1505 250 L1520 500"/>
<path d="M1560 255 Q1615 300 1595 380 L1510 440"/>
<path d="M1330 530 Q1270 760 1285 1000 L1300 1090 Q1320 1110 1345 1100 L1390 1075 Q1360 940 1430 870 Q1520 840 1600 900 Q1660 990 1640 1150 Q1660 1165 1680 1150 Q1775 1060 1770 960 Q1770 780 1660 640 Q1580 560 1505 500"/>
<path d="M1335 1090 Q1320 960 1390 895 Q1460 860 1530 885"/>
<path d="M1720 880 Q1760 1000 1690 1140"/>
<path d="M1335 525 L1400 595 L1440 630 V655"/>
<path d="M1355 520 L1420 598 L1455 638 V655"/>
<path d="M1600 262 L1690 212"/>
<path d="M1722 194 L1775 163"/>
<path d="M1792 152 L1870 105"/>
</g>
<g transform="translate(1320,1780) scale(0.35197)" fill="none" stroke="#a0a0a0" stroke-width="6.82" stroke-linecap="round" stroke-linejoin="round" >
<path d="M765 825 L1575 290 Q1600 270 1640 265 L1760 180 Q1790 150 1815 150 L1840 128 Q1880 110 1910 140 Q1925 180 1900 210 L1870 235 L1650 380 L1625 385 L830 905"/>
<path d="M1580 292 Q1640 310 1645 382"/>
<path d="M1605 272 Q1660 292 1665 372"/>
<path d="M1815 150 Q1860 178 1870 235"/>
<path d="M800 812 L880 770"/>
<path d="M700 885 Q665 900 675 935 Q690 962 730 955"/>
<path d="M700 885 Q740 895 745 935 Q740 955 730 955"/>
<path d="M760 830 L800 820 Q835 850 825 900 L740 955"/>
<path d="M782 825 Q815 858 808 905"/>
<path d="M575 1005 L655 960"/>
<path d="M718 875 Q740 910 730 953"/>
<path d="M730 867 Q752 902 742 945"/>
<path d="M742 859 Q764 894 754 937"/>
<path d="M754 851 Q776 886 766 929"/>
<path d="M766 843 Q788 878 778 921"/>
<path d="M778 835 Q800 870 790 913"/>
<ellipse cx="400" cy="795" rx="105" ry="28" transform="rotate(0 400 795)"/>
<ellipse cx="395" cy="795" rx="70" ry="18" transform="rotate(0 395 795)"/>
<path d="M160 885 Q165 860 190 845 L235 840 L252 862 L320 1045"/>
<path d="M190 845 L205 880 L250 862"/>
<path d="M205 880 L240 1045"/>
<path d="M160 885 L180 1110 Q185 1160 210 1210"/>
<path d="M295 790 L335 1040"/>
<path d="M505 800 L555 995"/>
<path d="M470 960 Q480 975 510 980 L555 990 L570 1070 L540 1085 L530 1010 L510 990"/>
<path d="M300 1040 L430 980"/>
<path d="M300 1080 L440 1010"/>
<path d="M330 1100 L410 1060"/>
<ellipse cx="255" cy="1170" rx="50" ry="60" transform="rotate(-20 255 1170)"/>
<path d="M225 1140 L285 1200"/>
<path d="M240 1175 L270 1150"/>
<path d="M230 1250 L570 1078"/>
<path d="M480 1100 L540 1085"/>
</g>
<g transform="translate(780,2180) scale(0.40372)" fill="none" stroke="#a0a0a0" stroke-width="5.94" stroke-linecap="round" stroke-linejoin="round" >
<ellipse cx="1390" cy="135" rx="28" ry="42" transform="rotate(-30 1390 135)"/>
<ellipse cx="1387" cy="140" rx="17" ry="28" transform="rotate(-30 1387 140)"/>
<path d="M1370 102 L1075 278"/>
<path d="M1412 165 L1125 355"/>
<path d="M1075 278 Q1055 310 1080 345 Q1100 365 1130 350"/>
<path d="M1060 288 Q1045 320 1065 352"/>
<path d="M1060 288 L880 400 Q870 430 895 455 L1065 352"/>
<path d="M1125 358 L710 615 L570 695"/>
<path d="M880 400 L640 570 Q615 595 650 612 L895 455"/>
<path d="M640 570 L520 640 Q470 680 490 730 Q505 755 540 752 L640 690 L660 610"/>
<path d="M515 660 Q555 630 585 650 L555 690"/>
<path d="M570 625 Q600 640 590 660"/>
<path d="M915 485 L1085 385"/>
<path d="M780 575 L885 510"/>
<path d="M550 720 L640 670"/>
<path d="M1315 215 L1385 175"/>
<path d="M590 465 L810 325 Q835 318 840 345 L605 500 Q582 492 590 465"/>
<path d="M715 465 L750 530"/>
<ellipse cx="410" cy="770" rx="38" ry="48" transform="rotate(-30 410 770)"/>
<ellipse cx="408" cy="772" rx="22" ry="30" transform="rotate(-30 408 772)"/>
<path d="M265 800 L305 775 L345 785 L365 825 L345 865 L300 880 L275 865 L260 830 Z"/>
<ellipse cx="300" cy="830" rx="20" ry="30" transform="rotate(-20 300 830)"/>
<ellipse cx="300" cy="830" rx="12" ry="20" transform="rotate(-20 300 830)"/>
<path d="M160 880 L200 835 L240 840 L260 875 L245 920 L205 940 L170 925 Z"/>
<ellipse cx="205" cy="890" rx="22" ry="30" transform="rotate(-20 205 890)"/>
<ellipse cx="205" cy="890" rx="12" ry="20" transform="rotate(-20 205 890)"/>
<path d="M88 970 L155 935"/>
<path d="M255 860 L270 850"/>
<path d="M355 800 L380 785"/>
<path d="M445 745 L490 725"/>
<path d="M1420 110 L1465 85"/>
<path d="M1500 720 Q1478 760 1500 800 Q1520 815 1550 810 L1870 622"/>
<path d="M1510 720 L1815 545"/>
<path d="M1520 722 Q1545 745 1540 795"/>
<path d="M1580 790 L1840 640"/>
<path d="M1815 545 Q1860 560 1870 622"/>
<path d="M1470 800 L1500 785"/>
</g>
<g transform="translate(1140,2300) scale(0.28986)" fill="none" stroke="#a0a0a0" stroke-width="8.28" stroke-linecap="round" stroke-linejoin="round" >
<ellipse cx="458" cy="898" rx="62" ry="78" transform="rotate(-15 458 898)"/>
<path d="M385 820 Q368 870 385 930 Q420 1000 480 1005 Q540 992 552 950"/>
<path d="M385 820 Q400 795 440 800 L680 655 Q750 635 790 700 Q812 760 790 840 L760 858"/>
<path d="M600 770 L690 720"/>
<path d="M585 790 Q570 830 590 880 L612 925 Q640 945 680 935 Q730 915 752 870"/>
<ellipse cx="705" cy="840" rx="30" ry="45" transform="rotate(25 705 840)"/>
<ellipse cx="705" cy="840" rx="19" ry="32" transform="rotate(25 705 840)"/>
<path d="M395 965 L270 1150 Q170 1380 132 1520 L165 1790 Q190 1812 212 1800 L220 1750 Q200 1620 270 1570 Q320 1540 380 1550 Q470 1600 480 1860 Q495 1882 530 1870 Q572 1820 577 1700 Q580 1500 540 1330 L612 915"/>
<path d="M162 1780 Q145 1620 230 1550 Q300 1512 370 1530 Q480 1572 510 1750 L512 1868"/>
<path d="M280 1175 L435 1265"/>
<path d="M225 1280 L545 1475"/>
<path d="M300 1345 L455 1435"/>
<path d="M320 1320 L470 1405"/>
<path d="M550 1470 Q575 1600 555 1850"/>
<path d="M850 935 L935 948"/>
<path d="M850 935 L930 1000"/>
<path d="M960 965 L1010 950 L1045 975 L1055 1020 L1030 1075 L985 1085 L955 1060 L940 1020 Z"/>
<path d="M1010 950 L990 1000 L1000 1080"/>
<path d="M945 1005 L990 1000 L1050 1010"/>
<path d="M880 938 Q900 965 890 992"/>
<path d="M905 942 Q925 970 915 1000"/>
<path d="M930 948 Q950 978 940 1010"/>
<path d="M750 880 L850 935"/>
</g>
<g transform="translate(1520,2060) scale(0.28986)" fill="none" stroke="#a0a0a0" stroke-width="8.28" stroke-linecap="round" stroke-linejoin="round" >
<path d="M1320 100 L1298 160"/>
<path d="M1275 222 L1250 290"/>
<path d="M1060 810 L1020 920"/>
<path d="M915 1300 L900 1340"/>
<path d="M810 1580 L795 1640"/>
<path d="M755 1775 L715 1890"/>
<path d="M945 600 Q918 650 940 720 Q975 782 1050 775 Q1100 760 1105 720"/>
<ellipse cx="1015" cy="690" rx="52" ry="75" transform="rotate(-15 1015 690)"/>
<path d="M960 735 L1035 662"/>
<path d="M945 600 L985 580"/>
<path d="M985 520 L985 575 L1030 592 L1055 580 L1055 530 L1030 490 L985 520 L1030 540 L1055 530 M1030 540 V592"/>
<path d="M1055 545 L1150 500 L1155 450 L1200 430 L1230 448 L1225 475 L1160 500"/>
<path d="M1120 470 Q1130 385 1185 357 Q1230 350 1245 366 L1235 388 L1275 410 L1270 440"/>
<path d="M1230 448 Q1290 480 1320 550 Q1335 600 1320 610"/>
<path d="M1220 610 Q1200 665 1240 710 Q1290 730 1330 680 Q1352 640 1320 598"/>
<ellipse cx="1285" cy="660" rx="30" ry="40" transform="rotate(25 1285 660)"/>
<ellipse cx="1285" cy="660" rx="18" ry="27" transform="rotate(25 1285 660)"/>
<path d="M1055 775 L1225 700"/>
<path d="M1110 720 L1200 680"/>
<path d="M1080 565 L1200 515"/>
<path d="M1090 580 L1205 530"/>
<path d="M1345 725 Q1370 700 1400 708 L1445 745"/>
<path d="M1345 725 L1400 830"/>
<path d="M1445 745 L1490 752 L1515 782 L1440 860 L1408 855 L1400 830 L1445 745"/>
<path d="M1400 830 L1495 790"/>
<path d="M1490 752 L1495 790"/>
<path d="M1355 742 Q1392 732 1432 748"/>
<path d="M1364 762 Q1398 752 1436 768"/>
<path d="M1374 782 Q1405 772 1430 785"/>
<path d="M1384 802 Q1410 792 1420 800"/>
<path d="M1310 680 L1345 710"/>
<path d="M0 1170 Q50 1125 105 1090 L310 968 Q345 1000 345 1050"/>
<path d="M0 1310 L55 1270 Q100 1230 175 1210 L330 1110"/>
<path d="M105 1090 Q160 1120 180 1215"/>
<path d="M40 1160 Q62 1220 55 1270"/>
<path d="M215 1165 L330 1100"/>
<ellipse cx="345" cy="1070" rx="22" ry="36" transform="rotate(-15 345 1070)"/>
<path d="M350 1030 L390 1010"/>
<path d="M360 1105 L405 1080"/>
<path d="M395 910 Q360 950 375 1000 Q390 1050 420 1062 Q445 1070 470 1050 L790 845 Q808 815 795 780 Q780 740 745 730 Q710 728 690 745 L470 860 L395 910"/>
<path d="M460 870 Q510 840 540 880 Q552 920 520 932"/>
<path d="M465 915 L530 935"/>
<path d="M690 760 Q740 728 762 770 Q772 800 752 812"/>
<path d="M695 795 L755 808"/>
<path d="M540 900 Q590 940 580 990"/>
<path d="M610 810 Q665 850 660 900"/>
<path d="M435 1030 L545 968"/>
<path d="M805 780 L905 715"/>
<path d="M990 965 L920 1090 Q935 1125 990 1135 Q1060 1112 1050 1050 Q1040 990 990 965"/>
<path d="M920 1090 L960 1072 L990 1135"/>
<path d="M960 1072 L990 965"/>
<path d="M940 1122 L905 1250 Q920 1275 950 1262 L985 1135"/>
<ellipse cx="790" cy="1690" rx="55" ry="40" transform="rotate(-20 790 1690)"/>
<ellipse cx="790" cy="1695" rx="36" ry="27" transform="rotate(-20 790 1695)"/>
<path d="M728 1705 L722 1755 Q740 1792 800 1790 Q835 1780 835 1760 L845 1700"/>
<path d="M762 1778 L768 1728"/>
<ellipse cx="880" cy="1405" rx="52" ry="36" transform="rotate(-25 880 1405)"/>
<ellipse cx="869" cy="1433" rx="52" ry="36" transform="rotate(-25 869 1433)"/>
<ellipse cx="858" cy="1461" rx="52" ry="36" transform="rotate(-25 858 1461)"/>
<ellipse cx="847" cy="1489" rx="52" ry="36" transform="rotate(-25 847 1489)"/>
<ellipse cx="836" cy="1517" rx="52" ry="36" transform="rotate(-25 836 1517)"/>
<ellipse cx="825" cy="1545" rx="52" ry="36" transform="rotate(-25 825 1545)"/>
</g>
<text x="521.5" y="191.5" font-size="48.5" fill="#9d9d9d" textLength="350.5" lengthAdjust="spacingAndGlyphs">Standard Housing</text>
<g fill="#0b57a4" transform="translate(992.69,306) scale(0.94,1)"><text x="0.00" y="0" font-size="49.5">9</text></g>
<g fill="#a3c1de" transform="translate(1084.99,356.5) scale(0.94,1)"><path d="M0.292 -0.70 L0.353 -0.70 L0.353 0 L0.292 0 L0.292 -0.578 L0.106 -0.457 L0.106 -0.512 Q0.22 -0.58 0.292 -0.70 Z" transform="translate(0.00,0) scale(49.5)"/><text x="27.53" y="0" font-size="49.5">0</text></g>
<g fill="#a3c1de" transform="translate(772.09,400) scale(0.94,1)"><text x="0.00" y="0" font-size="49.5">8</text></g>
<g fill="#a3c1de" transform="translate(779.81,474.5) scale(0.94,1)"><text x="0.00" y="0" font-size="49.5">7</text></g>
<g fill="#a3c1de" transform="translate(1221.60,412.5) scale(0.94,1)"><path d="M0.292 -0.70 L0.353 -0.70 L0.353 0 L0.292 0 L0.292 -0.578 L0.106 -0.457 L0.106 -0.512 Q0.22 -0.58 0.292 -0.70 Z" transform="translate(0.00,0) scale(49.5)"/><text x="27.53" y="0" font-size="49.5">2</text></g>
<g fill="#a3c1de" transform="translate(1170.13,490) scale(0.94,1)"><path d="M0.292 -0.70 L0.353 -0.70 L0.353 0 L0.292 0 L0.292 -0.578 L0.106 -0.457 L0.106 -0.512 Q0.22 -0.58 0.292 -0.70 Z" transform="translate(0.00,0) scale(49.5)"/><path d="M0.292 -0.70 L0.353 -0.70 L0.353 0 L0.292 0 L0.292 -0.578 L0.106 -0.457 L0.106 -0.512 Q0.22 -0.58 0.292 -0.70 Z" transform="translate(27.53,0) scale(49.5)"/></g>
<g fill="#a3c1de" transform="translate(1392.21,391.5) scale(0.94,1)"><path d="M0.292 -0.70 L0.353 -0.70 L0.353 0 L0.292 0 L0.292 -0.578 L0.106 -0.457 L0.106 -0.512 Q0.22 -0.58 0.292 -0.70 Z" transform="translate(0.00,0) scale(49.5)"/><text x="27.53" y="0" font-size="49.5">3</text></g>
<g fill="#0b57a4" transform="translate(1632.84,214.5) scale(0.94,1)"><text x="0.00" y="0" font-size="49.5">9</text></g>
<g fill="#a3c1de" transform="translate(1721.34,274) scale(0.94,1)"><path d="M0.292 -0.70 L0.353 -0.70 L0.353 0 L0.292 0 L0.292 -0.578 L0.106 -0.457 L0.106 -0.512 Q0.22 -0.58 0.292 -0.70 Z" transform="translate(0.00,0) scale(49.5)"/><text x="27.53" y="0" font-size="49.5">0</text></g>
<g fill="#a3c1de" transform="translate(1410.09,301.5) scale(0.94,1)"><text x="0.00" y="0" font-size="49.5">8</text></g>
<g fill="#a3c1de" transform="translate(1666.86,409) scale(0.94,1)"><path d="M0.292 -0.70 L0.353 -0.70 L0.353 0 L0.292 0 L0.292 -0.578 L0.106 -0.457 L0.106 -0.512 Q0.22 -0.58 0.292 -0.70 Z" transform="translate(0.00,0) scale(49.5)"/><text x="27.53" y="0" font-size="49.5">4</text></g>
<g fill="#a3c1de" transform="translate(1661.41,511.5) scale(0.94,1)"><path d="M0.292 -0.70 L0.353 -0.70 L0.353 0 L0.292 0 L0.292 -0.578 L0.106 -0.457 L0.106 -0.512 Q0.22 -0.58 0.292 -0.70 Z" transform="translate(0.00,0) scale(49.5)"/><text x="27.53" y="0" font-size="49.5">5</text></g>
<g fill="#a3c1de" transform="translate(1777.96,349.5) scale(0.94,1)"><path d="M0.292 -0.70 L0.353 -0.70 L0.353 0 L0.292 0 L0.292 -0.578 L0.106 -0.457 L0.106 -0.512 Q0.22 -0.58 0.292 -0.70 Z" transform="translate(0.00,0) scale(49.5)"/><text x="27.53" y="0" font-size="49.5">6</text></g>
<g fill="#a3c1de" transform="translate(1938.61,343) scale(0.94,1)"><path d="M0.292 -0.70 L0.353 -0.70 L0.353 0 L0.292 0 L0.292 -0.578 L0.106 -0.457 L0.106 -0.512 Q0.22 -0.58 0.292 -0.70 Z" transform="translate(0.00,0) scale(49.5)"/><text x="27.53" y="0" font-size="49.5">4</text></g>
<g fill="#a3c1de" transform="translate(1932.91,444.5) scale(0.94,1)"><path d="M0.292 -0.70 L0.353 -0.70 L0.353 0 L0.292 0 L0.292 -0.578 L0.106 -0.457 L0.106 -0.512 Q0.22 -0.58 0.292 -0.70 Z" transform="translate(0.00,0) scale(49.5)"/><text x="27.53" y="0" font-size="49.5">5</text></g>
<g fill="#a3c1de" transform="translate(2020.60,509) scale(0.94,1)"><path d="M0.292 -0.70 L0.353 -0.70 L0.353 0 L0.292 0 L0.292 -0.578 L0.106 -0.457 L0.106 -0.512 Q0.22 -0.58 0.292 -0.70 Z" transform="translate(0.00,0) scale(49.5)"/><text x="27.53" y="0" font-size="49.5">7</text></g>
<g fill="#a3c1de" transform="translate(2024.93,561.5) scale(0.94,1)"><path d="M0.292 -0.70 L0.353 -0.70 L0.353 0 L0.292 0 L0.292 -0.578 L0.106 -0.457 L0.106 -0.512 Q0.22 -0.58 0.292 -0.70 Z" transform="translate(0.00,0) scale(49.5)"/><text x="27.53" y="0" font-size="49.5">8</text></g>
<g fill="#a3c1de" transform="translate(1961.32,682) scale(0.94,1)"><path d="M0.292 -0.70 L0.353 -0.70 L0.353 0 L0.292 0 L0.292 -0.578 L0.106 -0.457 L0.106 -0.512 Q0.22 -0.58 0.292 -0.70 Z" transform="translate(0.00,0) scale(49.5)"/></g>
<g fill="#a3c1de" transform="translate(1950.09,784.5) scale(0.94,1)"><text x="0.00" y="0" font-size="49.5">2</text></g>
<g fill="#a3c1de" transform="translate(2000.98,855.5) scale(0.94,1)"><text x="0.00" y="0" font-size="49.5">4</text></g>
<g fill="#a3c1de" transform="translate(1765.48,949) scale(0.94,1)"><text x="0.00" y="0" font-size="49.5">3</text></g>
<g fill="#a3c1de" transform="translate(1722.23,1004) scale(0.94,1)"><text x="0.00" y="0" font-size="49.5">3</text></g>
<g fill="#a3c1de" transform="translate(635.88,773) scale(0.94,1)"><text x="0.00" y="0" font-size="49.5">5</text></g>
<g fill="#a3c1de" transform="translate(799.43,818) scale(0.94,1)"><text x="0.00" y="0" font-size="49.5">6</text></g>
<g fill="#a3c1de" transform="translate(2463.21,1509.5) scale(0.94,1)"><text x="0.00" y="0" font-size="49.5">9</text><text x="27.53" y="0" font-size="49.5">9</text><text x="55.06" y="0" font-size="49.5">9</text></g>
<g fill="#a3c1de" transform="translate(924.53,1510.5) scale(0.94,1)"><path d="M0.292 -0.70 L0.353 -0.70 L0.353 0 L0.292 0 L0.292 -0.578 L0.106 -0.457 L0.106 -0.512 Q0.22 -0.58 0.292 -0.70 Z" transform="translate(0.00,0) scale(49.5)"/><text x="27.53" y="0" font-size="49.5">9</text></g>
<g fill="#a3c1de" transform="translate(967.89,1578) scale(0.94,1)"><text x="0.00" y="0" font-size="49.5">2</text><text x="27.53" y="0" font-size="49.5">0</text></g>
<g fill="#a3c1de" transform="translate(1053.44,1623) scale(0.94,1)"><text x="0.00" y="0" font-size="49.5">2</text><path d="M0.292 -0.70 L0.353 -0.70 L0.353 0 L0.292 0 L0.292 -0.578 L0.106 -0.457 L0.106 -0.512 Q0.22 -0.58 0.292 -0.70 Z" transform="translate(27.53,0) scale(49.5)"/></g>
<g fill="#a3c1de" transform="translate(1159.15,1704.5) scale(0.94,1)"><text x="0.00" y="0" font-size="49.5">2</text><text x="27.53" y="0" font-size="49.5">2</text></g>
<g fill="#a3c1de" transform="translate(1559.01,1627) scale(0.94,1)"><text x="0.00" y="0" font-size="49.5">2</text><text x="27.53" y="0" font-size="49.5">3</text></g>
<g fill="#a3c1de" transform="translate(1067.66,1830.5) scale(0.94,1)"><text x="0.00" y="0" font-size="49.5">2</text><text x="27.53" y="0" font-size="49.5">4</text></g>
<g fill="#a3c1de" transform="translate(891.46,1973) scale(0.94,1)"><text x="0.00" y="0" font-size="49.5">2</text><text x="27.53" y="0" font-size="49.5">5</text></g>
<g fill="#a3c1de" transform="translate(1669.51,1867) scale(0.94,1)"><text x="0.00" y="0" font-size="49.5">2</text><text x="27.53" y="0" font-size="49.5">6</text></g>
<g fill="#a3c1de" transform="translate(1270.90,2079.5) scale(0.94,1)"><text x="0.00" y="0" font-size="49.5">2</text><text x="27.53" y="0" font-size="49.5">7</text></g>
<g fill="#a3c1de" transform="translate(1088.99,2215.5) scale(0.94,1)"><text x="0.00" y="0" font-size="49.5">2</text><text x="27.53" y="0" font-size="49.5">8</text></g>
<g fill="#a3c1de" transform="translate(972.33,2252) scale(0.94,1)"><text x="0.00" y="0" font-size="49.5">2</text><text x="27.53" y="0" font-size="49.5">9</text></g>
<g fill="#a3c1de" transform="translate(1674.79,2185.5) scale(0.94,1)"><text x="0.00" y="0" font-size="49.5">3</text><text x="27.53" y="0" font-size="49.5">3</text></g>
<g fill="#a3c1de" transform="translate(847.17,2389.5) scale(0.94,1)"><text x="0.00" y="0" font-size="49.5">3</text><text x="27.53" y="0" font-size="49.5">0</text></g>
<g fill="#a3c1de" transform="translate(752.68,2449) scale(0.94,1)"><text x="0.00" y="0" font-size="49.5">3</text><text x="27.53" y="0" font-size="49.5">2</text></g>
<g fill="#a3c1de" transform="translate(1004.96,2580.5) scale(0.94,1)"><text x="0.00" y="0" font-size="49.5">3</text><path d="M0.292 -0.70 L0.353 -0.70 L0.353 0 L0.292 0 L0.292 -0.578 L0.106 -0.457 L0.106 -0.512 Q0.22 -0.58 0.292 -0.70 Z" transform="translate(27.53,0) scale(49.5)"/></g>
<g fill="#a3c1de" transform="translate(1316.18,2433) scale(0.94,1)"><text x="0.00" y="0" font-size="49.5">3</text><text x="27.53" y="0" font-size="49.5">7</text></g>
<g fill="#a3c1de" transform="translate(1531.91,2513) scale(0.94,1)"><text x="0.00" y="0" font-size="49.5">2</text><text x="27.53" y="0" font-size="49.5">4</text></g>
<g fill="#a3c1de" transform="translate(1037.52,2696.5) scale(0.94,1)"><text x="0.00" y="0" font-size="49.5">3</text><text x="27.53" y="0" font-size="49.5">8</text></g>
<g fill="#a3c1de" transform="translate(2026.16,2283) scale(0.94,1)"><text x="0.00" y="0" font-size="49.5">2</text><text x="27.53" y="0" font-size="49.5">4</text></g>
<g fill="#a3c1de" transform="translate(1900.94,2432) scale(0.94,1)"><text x="0.00" y="0" font-size="49.5">3</text><text x="27.53" y="0" font-size="49.5">4</text></g>
<g fill="#a3c1de" transform="translate(1869.74,2532) scale(0.94,1)"><text x="0.00" y="0" font-size="49.5">3</text><text x="27.53" y="0" font-size="49.5">5</text></g>
<g fill="#a3c1de" transform="translate(1848.04,2605.5) scale(0.94,1)"><text x="0.00" y="0" font-size="49.5">3</text><text x="27.53" y="0" font-size="49.5">6</text></g>
<line x1="917" y1="299.5" x2="978" y2="299.5" stroke="#0b57a4" stroke-width="2.4"/>
<line x1="1008" y1="351.75" x2="1069.5" y2="351.75" stroke="#a3c1de" stroke-width="2.4"/>
<line x1="823.75" y1="410" x2="880" y2="453" stroke="#a3c1de" stroke-width="2.4"/>
<line x1="819.5" y1="468.75" x2="877.5" y2="514.5" stroke="#a3c1de" stroke-width="2.4"/>
<line x1="1260.5" y1="422.5" x2="1321" y2="470" stroke="#a3c1de" stroke-width="2.4"/>
<line x1="1221.75" y1="495" x2="1282.5" y2="542" stroke="#a3c1de" stroke-width="2.4"/>
<line x1="1462.5" y1="375" x2="1521" y2="421" stroke="#a3c1de" stroke-width="2.4"/>
<line x1="1557.5" y1="206" x2="1618.5" y2="206" stroke="#0b57a4" stroke-width="2.4"/>
<line x1="1651.5" y1="258.5" x2="1712.5" y2="258.5" stroke="#a3c1de" stroke-width="2.4"/>
<line x1="1465" y1="310" x2="1523.5" y2="360" stroke="#a3c1de" stroke-width="2.4"/>
<line x1="1661" y1="419" x2="1639" y2="441" stroke="#a3c1de" stroke-width="2.4"/>
<line x1="1657.5" y1="521.5" x2="1635" y2="545" stroke="#a3c1de" stroke-width="2.4"/>
<line x1="1790" y1="357.5" x2="1791" y2="392.5" stroke="#a3c1de" stroke-width="2.4"/>
<line x1="1931" y1="351.5" x2="1908.5" y2="375" stroke="#a3c1de" stroke-width="2.4"/>
<line x1="1926" y1="449" x2="1904" y2="472.5" stroke="#a3c1de" stroke-width="2.4"/>
<line x1="2011.5" y1="509" x2="1977.5" y2="520" stroke="#a3c1de" stroke-width="2.4"/>
<line x1="2015" y1="557.5" x2="1977.5" y2="567.5" stroke="#a3c1de" stroke-width="2.4"/>
<line x1="1952.5" y1="678.5" x2="1885" y2="714" stroke="#a3c1de" stroke-width="2.4"/>
<line x1="1942.5" y1="789" x2="1871.5" y2="826.5" stroke="#a3c1de" stroke-width="2.4"/>
<line x1="2010" y1="865" x2="2008.5" y2="917.5" stroke="#a3c1de" stroke-width="2.4"/>
<line x1="1792.5" y1="950" x2="1827.5" y2="968.5" stroke="#a3c1de" stroke-width="2.4"/>
<line x1="1750" y1="1005" x2="1789" y2="1028.5" stroke="#a3c1de" stroke-width="2.4"/>
<line x1="645" y1="788.5" x2="643.5" y2="840" stroke="#a3c1de" stroke-width="2.4"/>
<line x1="831" y1="821" x2="919" y2="909" stroke="#a3c1de" stroke-width="2.4"/>
<line x1="2322.7" y1="1502.9" x2="2426.7" y2="1502.9" stroke="#a3c1de" stroke-width="2.4"/>
<line x1="990" y1="1498.5" x2="1071" y2="1498.5" stroke="#a3c1de" stroke-width="2.4"/>
<line x1="1028.5" y1="1561" x2="1110" y2="1561" stroke="#a3c1de" stroke-width="2.4"/>
<line x1="1112.5" y1="1606.5" x2="1194" y2="1606.5" stroke="#a3c1de" stroke-width="2.4"/>
<line x1="1226" y1="1681" x2="1307.5" y2="1681" stroke="#a3c1de" stroke-width="2.4"/>
<line x1="1541" y1="1634" x2="1451" y2="1685" stroke="#a3c1de" stroke-width="2.4"/>
<line x1="1140" y1="1815" x2="1222" y2="1815" stroke="#a3c1de" stroke-width="2.4"/>
<line x1="961" y1="1961" x2="1022.5" y2="1984" stroke="#a3c1de" stroke-width="2.4"/>
<line x1="1702.5" y1="1886.5" x2="1748.5" y2="1951" stroke="#a3c1de" stroke-width="2.4"/>
<line x1="1327.5" y1="2084" x2="1372.5" y2="2127.5" stroke="#a3c1de" stroke-width="2.4"/>
<line x1="1129" y1="2230" x2="1174" y2="2295" stroke="#a3c1de" stroke-width="2.4"/>
<line x1="1012.5" y1="2266.5" x2="1057.5" y2="2330" stroke="#a3c1de" stroke-width="2.4"/>
<line x1="1738.5" y1="2178.5" x2="1800" y2="2192.5" stroke="#a3c1de" stroke-width="2.4"/>
<line x1="886.5" y1="2404" x2="932.5" y2="2469" stroke="#a3c1de" stroke-width="2.4"/>
<line x1="792.5" y1="2462.5" x2="837.5" y2="2527.5" stroke="#a3c1de" stroke-width="2.4"/>
<line x1="926.5" y1="2540" x2="991.5" y2="2570" stroke="#a3c1de" stroke-width="2.4"/>
<line x1="1381.5" y1="2416.5" x2="1463.5" y2="2416.5" stroke="#a3c1de" stroke-width="2.4"/>
<line x1="1535" y1="2523.5" x2="1457.5" y2="2579" stroke="#a3c1de" stroke-width="2.4"/>
<line x1="1102.5" y1="2672.5" x2="1184" y2="2672.5" stroke="#a3c1de" stroke-width="2.4"/>
<line x1="1982.5" y1="2269" x2="2021" y2="2269" stroke="#a3c1de" stroke-width="2.4"/>
<line x1="1827.5" y1="2390" x2="1890" y2="2406" stroke="#a3c1de" stroke-width="2.4"/>
<line x1="1794" y1="2496" x2="1856.5" y2="2512.5" stroke="#a3c1de" stroke-width="2.4"/>
<line x1="1771.5" y1="2570" x2="1834" y2="2586.5" stroke="#a3c1de" stroke-width="2.4"/>
</svg>
</body></html>
